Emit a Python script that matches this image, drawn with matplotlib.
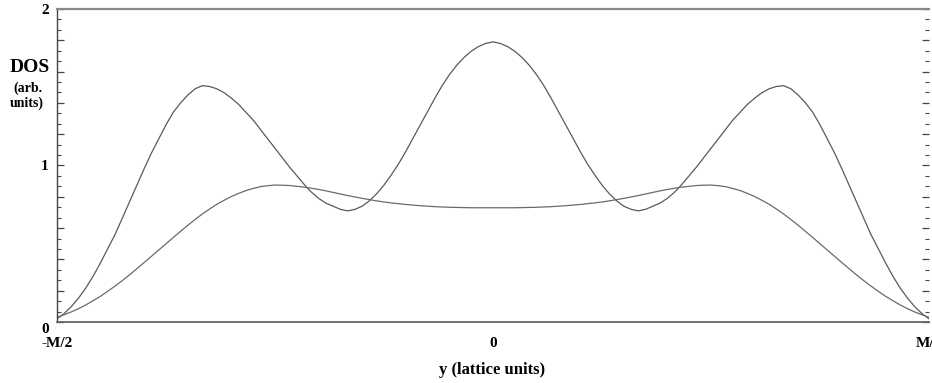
import numpy as np
import matplotlib
matplotlib.use("Agg")
import matplotlib.pyplot as plt
import matplotlib.transforms as mtransforms
from matplotlib.ticker import MultipleLocator, FuncFormatter

plt.rcParams['font.family'] = 'Liberation Serif'
plt.rcParams['font.weight'] = 'bold'

# position across the strip, in units of M (from -M/2 to M/2), step M/120
y_pos = np.arange(-60, 61) / 120.0

# three-peak curve
dos_a = [0.02, 0.055, 0.10, 0.155, 0.22, 0.295, 0.38, 0.47, 0.56, 0.665,
         0.77, 0.875, 0.98, 1.08, 1.17, 1.26, 1.34, 1.40, 1.45, 1.49,
         1.51, 1.505, 1.49, 1.465, 1.43, 1.39, 1.34, 1.29, 1.23, 1.17,
         1.11, 1.05, 0.99, 0.935, 0.88, 0.83, 0.79, 0.76, 0.74, 0.72,
         0.71, 0.72, 0.74, 0.775, 0.82, 0.875, 0.94, 1.01, 1.09, 1.175,
         1.26, 1.345, 1.43, 1.51, 1.58, 1.64, 1.69, 1.73, 1.76, 1.78,
         1.79,
         1.78, 1.76, 1.73, 1.69, 1.64, 1.58, 1.51, 1.43, 1.345, 1.26,
         1.175, 1.09, 1.01, 0.94, 0.875, 0.82, 0.775, 0.74, 0.72, 0.71,
         0.72, 0.74, 0.76, 0.79, 0.83, 0.88, 0.935, 0.99, 1.05, 1.11,
         1.17, 1.23, 1.29, 1.34, 1.39, 1.43, 1.465, 1.49, 1.505, 1.51,
         1.49, 1.45, 1.40, 1.34, 1.26, 1.17, 1.08, 0.98, 0.875, 0.77,
         0.665, 0.56, 0.47, 0.38, 0.295, 0.22, 0.155, 0.10, 0.055, 0.02]

# broad two-peak curve
dos_b = [0.03, 0.047, 0.065, 0.086, 0.11, 0.137, 0.165, 0.197, 0.23, 0.265,
         0.302, 0.341, 0.38, 0.42, 0.46, 0.50, 0.54, 0.579, 0.618, 0.655,
         0.69, 0.722, 0.752, 0.778, 0.802, 0.822, 0.84, 0.853, 0.865, 0.871,
         0.875, 0.874, 0.872, 0.867, 0.862, 0.855, 0.847, 0.838, 0.828, 0.818,
         0.808, 0.799, 0.79, 0.782, 0.774, 0.767, 0.761, 0.756, 0.751, 0.747,
         0.743, 0.74, 0.737, 0.735, 0.733, 0.732, 0.731, 0.73, 0.73, 0.73,
         0.73,
         0.73, 0.73, 0.73, 0.731, 0.732, 0.733, 0.735, 0.737, 0.74, 0.743,
         0.747, 0.751, 0.756, 0.761, 0.767, 0.774, 0.782, 0.79, 0.799, 0.808,
         0.818, 0.828, 0.838, 0.847, 0.855, 0.862, 0.867, 0.872, 0.874, 0.875,
         0.871, 0.865, 0.853, 0.84, 0.822, 0.802, 0.778, 0.752, 0.722, 0.69,
         0.655, 0.618, 0.579, 0.54, 0.50, 0.46, 0.42, 0.38, 0.341, 0.302,
         0.265, 0.23, 0.197, 0.165, 0.137, 0.11, 0.086, 0.065, 0.047, 0.03]

x_ticks = [-0.5, 0.0, 0.5]
x_labels = ['-M/2', '0', 'M/2']
y_labels = {0: '0', 1: '1', 2: '2'}

fig = plt.figure(figsize=(9.32, 3.83), dpi=100)
ax = fig.add_axes([57 / 932, 61 / 383, 872 / 932, 313 / 383])

ax.plot(y_pos, dos_a, color='#5a5a5a', lw=0.9)
ax.plot(y_pos, dos_b, color='#6a6a6a', lw=0.9)

ax.set_xlim(-0.5, 0.5)
ax.set_ylim(0, 2)

ax.spines['right'].set_visible(False)
ax.spines['top'].set_color('#888888')
ax.spines['top'].set_linewidth(1.6)
ax.spines['bottom'].set_color('#666666')
ax.spines['bottom'].set_linewidth(1.3)
ax.spines['left'].set_color('#444444')
ax.spines['left'].set_linewidth(1.0)

ax.set_xticks(x_ticks)
ax.set_xticklabels(x_labels, fontsize=11, fontweight='bold')
ax.tick_params(axis='x', length=0, pad=11)

ax.yaxis.set_major_locator(MultipleLocator(0.2))
ax.yaxis.set_minor_locator(MultipleLocator(1 / 15))
ax.yaxis.set_major_formatter(
    FuncFormatter(lambda v, p: y_labels.get(int(round(v)), '') if abs(v - round(v)) < 1e-6 else ''))
ax.tick_params(axis='y', which='both', direction='in', left=True, right=True,
               color='#444444', labelsize=11, pad=6)
ax.tick_params(axis='y', which='major', length=5, width=0.9)
ax.tick_params(axis='y', which='minor', length=3, width=0.8)

fig.canvas.draw()
for lab in ax.get_yticklabels():
    lab.set_fontweight('bold')
    if lab.get_text() == '0':
        # the zero label sits a little below the axis line
        lab.set_transform(lab.get_transform() +
                          mtransforms.ScaledTranslation(0, -6 / 100, fig.dpi_scale_trans))

fig.text(30 / 932, 1 - 68 / 383, 'DOS', ha='center', va='center', fontsize=14, fontweight='bold')
fig.text(28 / 932, 1 - 88 / 383, '(arb.', ha='center', va='center', fontsize=10, fontweight='bold')
fig.text(27 / 932, 1 - 103 / 383, 'units)', ha='center', va='center', fontsize=10, fontweight='bold')
fig.text(492 / 932, 1 - 370 / 383, 'y (lattice units)', ha='center', va='center',
         fontsize=12, fontweight='bold')

fig.savefig('out.png', dpi=100)
